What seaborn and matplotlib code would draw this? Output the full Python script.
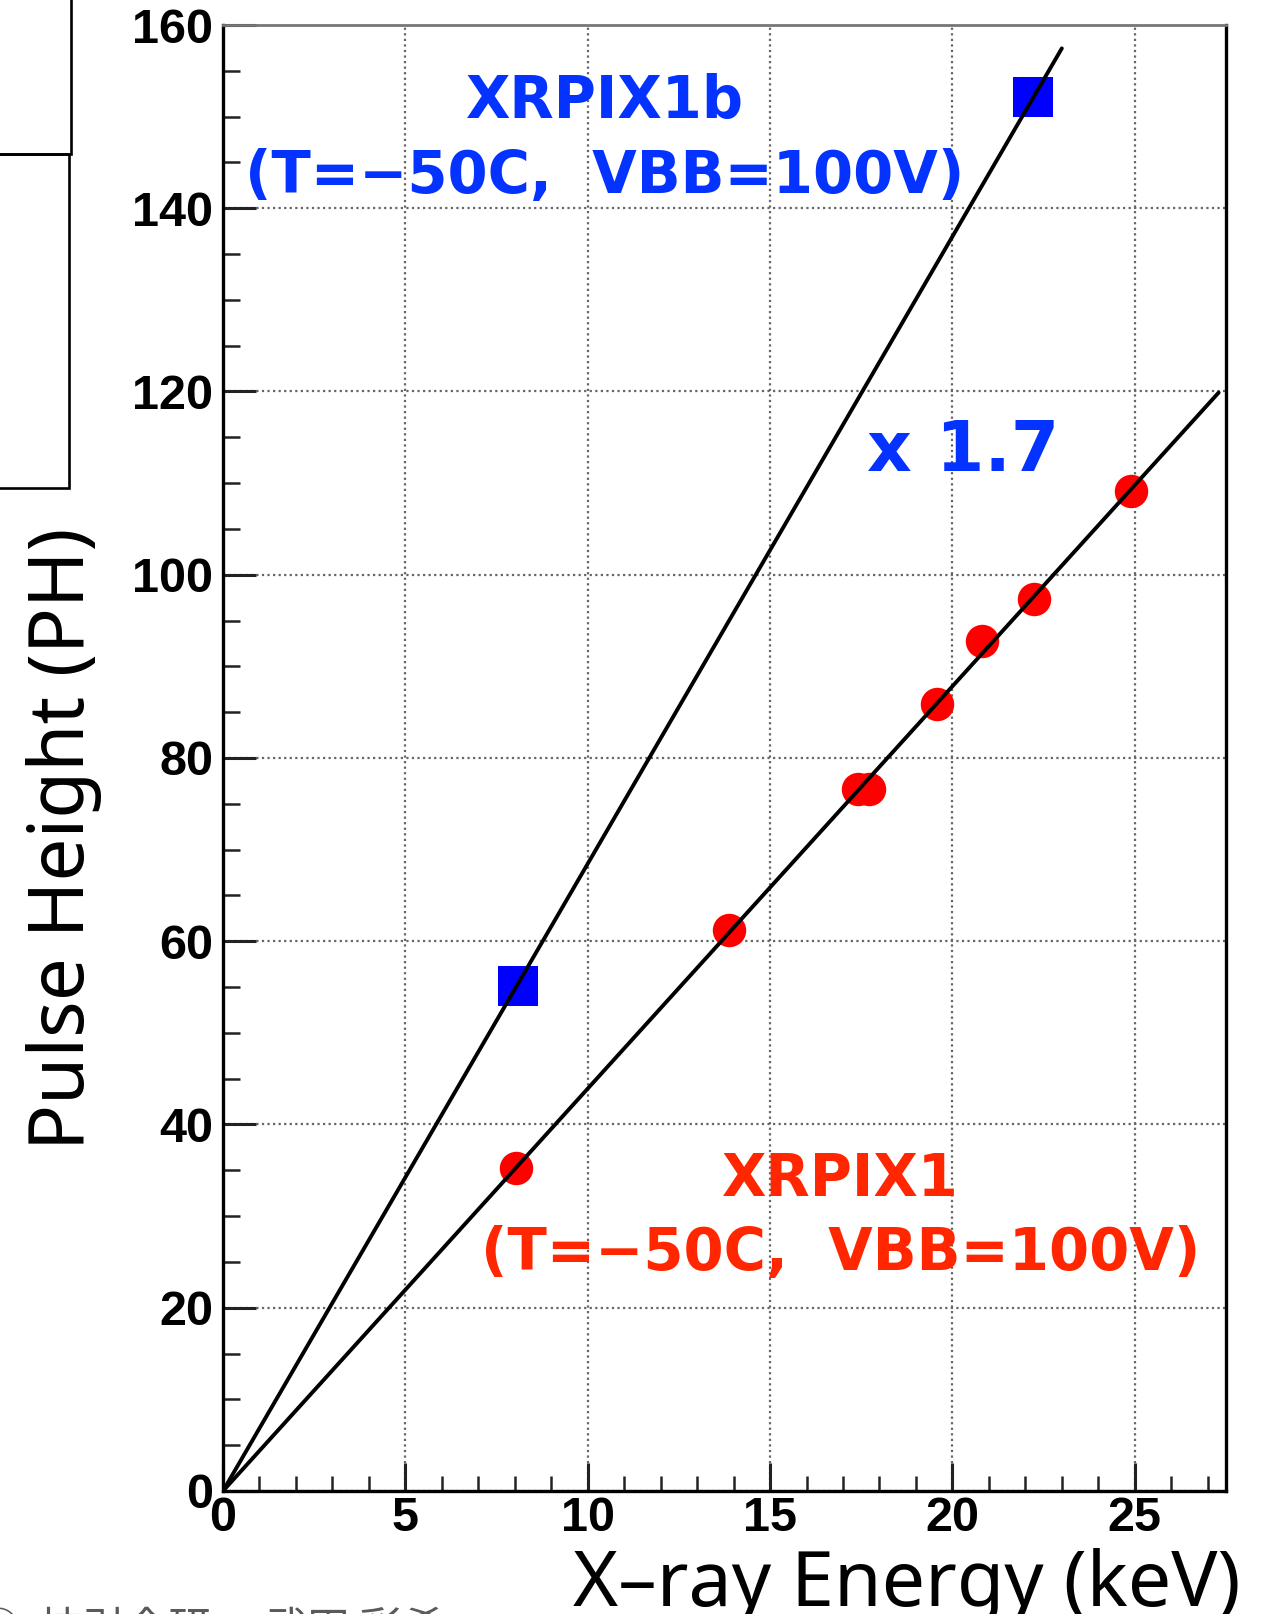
import matplotlib
matplotlib.use("Agg")
import numpy as np
import pandas as pd
import seaborn as sns
import matplotlib.pyplot as plt
from matplotlib.patches import Rectangle
from matplotlib.ticker import MultipleLocator

# ---------------- data ----------------
xrpix1_energy = [8.04, 13.88, 17.40, 17.70, 19.58, 20.82, 22.23, 24.90]
xrpix1_ph = [35.2, 61.2, 76.6, 76.6, 85.9, 92.8, 97.3, 109.1]
xrpix1b_energy = [8.10, 22.20]
xrpix1b_ph = [55.1, 152.1]
fit_range_1 = [0.0, 27.3]
fit_range_1b = [0.0, 23.0]
x_ticks = [0, 5, 10, 15, 20, 25]
y_ticks = [0, 20, 40, 60, 80, 100, 120, 140, 160]
x_label = "X\u2013ray Energy (keV)"
y_label = "Pulse Height (PH)"
label_1b = ["XRPIX1b", "(T=\u221250C,  VBB=100V)"]
label_1 = ["XRPIX1", "(T=\u221250C,  VBB=100V)"]
ratio_label = "x 1.7"
footer = "\u25cb  \u6280\u5f15\u4f1a\u7814\u3000 \u6b66\u7530 \u5f69\u5e0c"

BLUE_TXT = "#0433FF"
RED_TXT = "#FF2600"

sns.set_theme(style="white")
plt.rcParams["font.family"] = ["Noto Sans", "DejaVu Sans"]
plt.rcParams["text.color"] = "black"
plt.rcParams["axes.labelcolor"] = "black"
plt.rcParams["xtick.color"] = "black"
plt.rcParams["ytick.color"] = "black"

fig = plt.figure(figsize=(12.63, 16.14), dpi=100)
ax = fig.add_axes([0.17656, 0.07621, 0.7941, 0.9083])

df1 = pd.DataFrame({"energy": xrpix1_energy, "ph": xrpix1_ph})
df1b = pd.DataFrame({"energy": xrpix1b_energy, "ph": xrpix1b_ph})

sns.scatterplot(data=df1, x="energy", y="ph", marker="o", s=580,
                color="#FF0000", linewidth=0, ax=ax, zorder=2, legend=False)
sns.scatterplot(data=df1b, x="energy", y="ph", marker="s", s=820,
                color="#0000FF", linewidth=0, ax=ax, zorder=2, legend=False)

# linear fits through the origin
for df, rng in [(df1, fit_range_1), (df1b, fit_range_1b)]:
    e = df["energy"].to_numpy()
    p = df["ph"].to_numpy()
    slope = np.sum(e * p) / np.sum(e * e)
    fx = np.array(rng)
    sns.lineplot(x=fx, y=slope * fx, color="black", linewidth=2.8,
                 ax=ax, zorder=3, sort=False, legend=False)

ax.set_xlim(0, 27.5)
ax.set_ylim(0, 160)

tick_font = dict(fontfamily="Liberation Sans", fontweight="bold", fontsize=35,
                 color="black")
ax.set_xticks(x_ticks, labels=[str(v) for v in x_ticks], **tick_font)
ax.set_yticks(y_ticks, labels=[str(v) for v in y_ticks], **tick_font)
ax.xaxis.set_minor_locator(MultipleLocator(1))
ax.yaxis.set_minor_locator(MultipleLocator(5))

ax.tick_params(axis="x", which="major", direction="in", length=20, width=2.2,
               pad=3.5, bottom=True, top=False, color="#222222")
ax.tick_params(axis="x", which="minor", direction="in", length=10.5, width=1.8,
               bottom=True, top=False, color="#222222")
ax.tick_params(axis="y", which="major", direction="in", length=24, width=2.2,
               pad=7, left=True, right=False, color="#222222")
ax.tick_params(axis="y", which="minor", direction="in", length=12, width=1.8,
               left=True, right=False, color="#222222")

ax.grid(True, which="major", color="#666666", linestyle=(0, (1, 1.5)), linewidth=1.6)
ax.set_axisbelow(True)

for side in ["left", "bottom", "right"]:
    ax.spines[side].set_visible(True)
    ax.spines[side].set_color("black")
    ax.spines[side].set_linewidth(2.4)
ax.spines["top"].set_visible(True)
ax.spines["top"].set_color("#777777")
ax.spines["top"].set_linewidth(2.0)

# axis labels
ax.set_xlabel(x_label, fontsize=55.5, color="black",
              fontfamily=["Noto Sans", "DejaVu Sans"])
ax.xaxis.label.set_ha("right")
ax.xaxis.label.set_va("baseline")
ax.xaxis.set_label_coords(1.015, -0.0784)
ax.set_ylabel(y_label, fontsize=55, color="black",
              fontfamily=["Noto Sans", "DejaVu Sans"])
ax.yaxis.label.set_va("baseline")
ax.yaxis.set_label_coords(-0.1386, 0.4447)

# annotations
ann = dict(fontsize=41.5, fontweight="bold", ha="center", va="baseline",
           fontfamily=["DejaVu Sans"], zorder=4)
ax.text(10.46, 149.85, label_1b[0], color=BLUE_TXT, **ann)
ax.text(10.46, 141.7, label_1b[1], color=BLUE_TXT, **ann)
ax.text(16.92, 32.2, label_1[0], color=RED_TXT, **ann)
ax.text(16.94, 24.1, label_1[1], color=RED_TXT, **ann)
ax.text(20.3, 111.3, ratio_label, color=BLUE_TXT, fontsize=50, fontweight="heavy",
        ha="center", va="baseline", fontfamily=["DejaVu Sans"], zorder=4)

# slide decorations (boxes on the left edge, footer text)
fig.patches.append(Rectangle((-0.02, 1 - 154 / 1614), 71 / 1263 + 0.02, 0.2,
                             transform=fig.transFigure, fill=False,
                             edgecolor="black", linewidth=1.9))
fig.patches.append(Rectangle((-0.02, 1 - 488 / 1614), 69 / 1263 + 0.02,
                             (488 - 154) / 1614, transform=fig.transFigure,
                             fill=False, edgecolor="black", linewidth=1.9))
fig.text(-0.018, -0.018, footer, color="#5a5a5a", fontsize=31, va="baseline",
         ha="left", fontfamily=["Noto Sans CJK JP", "DejaVu Sans"])

fig.savefig("out.png", dpi=100)
